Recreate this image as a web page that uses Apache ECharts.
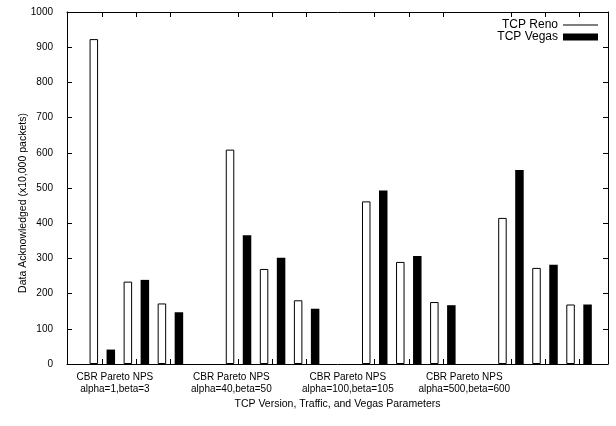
<!DOCTYPE html>
<html>
<head>
<meta charset="utf-8">
<script src="https://cdn.jsdelivr.net/npm/echarts@6/dist/echarts.min.js"></script>
<style>html,body{margin:0;padding:0;background:#fff}#c{width:616px;height:426px}</style>
</head>
<body>
<div id="c"></div>
<script>
// ---- data ----
const groupLabels = ['alpha=1,beta=3', 'alpha=40,beta=50', 'alpha=100,beta=105', 'alpha=500,beta=600'];
const trafficLabels = ['CBR', 'Pareto', 'NPS'];
const renoValues  = [923, 234, 172,  609, 270, 181,  462, 290, 176,  415, 273, 169];
const vegasValues = [ 41, 239, 147,  366, 302, 157,  493, 307, 167,  551, 282, 169];
const yTicks = [0, 100, 200, 300, 400, 500, 600, 700, 800, 900, 1000];

// ---- layout (slot positions on the x scale) ----
const slotsPerGroup = trafficLabels.length + 1;
const pairPos = [];
groupLabels.forEach((g, gi) => trafficLabels.forEach((t, ti) => pairPos.push(gi * slotsPerGroup + ti)));
const labelPos = groupLabels.map((g, gi) => 0.37 + gi * 3.42);
const xMin = -1.037, xMax = 14.85;

const font = "'Liberation Sans', Arial, Helvetica, sans-serif";
const chart = echarts.init(document.getElementById('c'), null, {renderer: 'canvas'});
const frameLine = {show: true, onZero: false, lineStyle: {color: '#000', width: 1}};
chart.setOption({
  animation: false,
  backgroundColor: '#fff',
  textStyle: {fontFamily: font, color: '#000'},
  grid: {left: 67, right: 8, top: 12, bottom: 62, containLabel: false},
  legend: {
    orient: 'vertical', right: 13, top: 14, align: 'right',
    itemWidth: 35, itemHeight: 7, itemGap: 0,
    textStyle: {fontFamily: font, fontSize: 12, color: '#000'},
    data: [
      {name: 'TCP Reno', icon: 'path://M0,0H35V1H0Z', itemStyle: {color: '#000', borderWidth: 0}},
      {name: 'TCP Vegas', icon: 'rect', itemStyle: {color: '#000', borderWidth: 0}}
    ]
  },
  xAxis: [{
    type: 'value', min: xMin, max: xMax, position: 'bottom',
    name: 'TCP Version, Traffic, and Vegas Parameters',
    nameLocation: 'middle', nameGap: 35, nameMoveOverlap: false,
    nameTextStyle: {fontFamily: font, fontSize: 10.5, color: '#000'},
    axisLine: frameLine,
    axisTick: {show: true, inside: true, length: 5, customValues: pairPos, lineStyle: {color: '#000'}},
    axisLabel: {
      show: true, margin: 7, customValues: labelPos, fontFamily: font, fontSize: 10, color: '#000', lineHeight: 12,
      formatter: (v) => {
        const i = labelPos.findIndex(p => Math.abs(p - v) < 1e-6);
        return i < 0 ? '' : trafficLabels.join(' ') + '\n' + groupLabels[i];
      }
    },
    splitLine: {show: false}
  }, {
    type: 'value', min: xMin, max: xMax, position: 'top',
    axisLine: frameLine,
    axisTick: {show: true, inside: true, length: 5, customValues: pairPos, lineStyle: {color: '#000'}},
    axisLabel: {show: false},
    splitLine: {show: false}
  }],
  yAxis: [{
    type: 'value', min: yTicks[0], max: yTicks[yTicks.length - 1], interval: 100, position: 'left',
    name: 'Data Acknowledged (x10,000 packets)',
    nameLocation: 'middle', nameGap: 38, nameRotate: 90, nameMoveOverlap: false,
    nameTextStyle: {fontFamily: font, fontSize: 10.5, color: '#000', padding: [0, 30, 0, 0]},
    axisLine: frameLine,
    axisTick: {show: true, inside: true, length: 5, lineStyle: {color: '#000'}},
    axisLabel: {margin: 14, fontFamily: font, fontSize: 10, color: '#000', formatter: (v) => String(v)},
    splitLine: {show: false}
  }, {
    type: 'value', min: yTicks[0], max: yTicks[yTicks.length - 1], interval: 100, position: 'right',
    axisLine: frameLine,
    axisTick: {show: true, inside: true, length: 5, lineStyle: {color: '#000'}},
    axisLabel: {show: false},
    splitLine: {show: false}
  }],
  series: [{
    name: 'TCP Reno', type: 'bar', xAxisIndex: 0, yAxisIndex: 0,
    barWidth: 8.5, barGap: '100%',
    itemStyle: {color: '#fff', borderColor: '#000', borderWidth: 1},
    data: renoValues.map((v, i) => [pairPos[i], v])
  }, {
    name: 'TCP Vegas', type: 'bar', xAxisIndex: 0, yAxisIndex: 0,
    barWidth: 8.5, barGap: '100%',
    itemStyle: {color: '#000', borderWidth: 0},
    data: vegasValues.map((v, i) => [pairPos[i], v])
  }]
});
</script>
</body>
</html>
